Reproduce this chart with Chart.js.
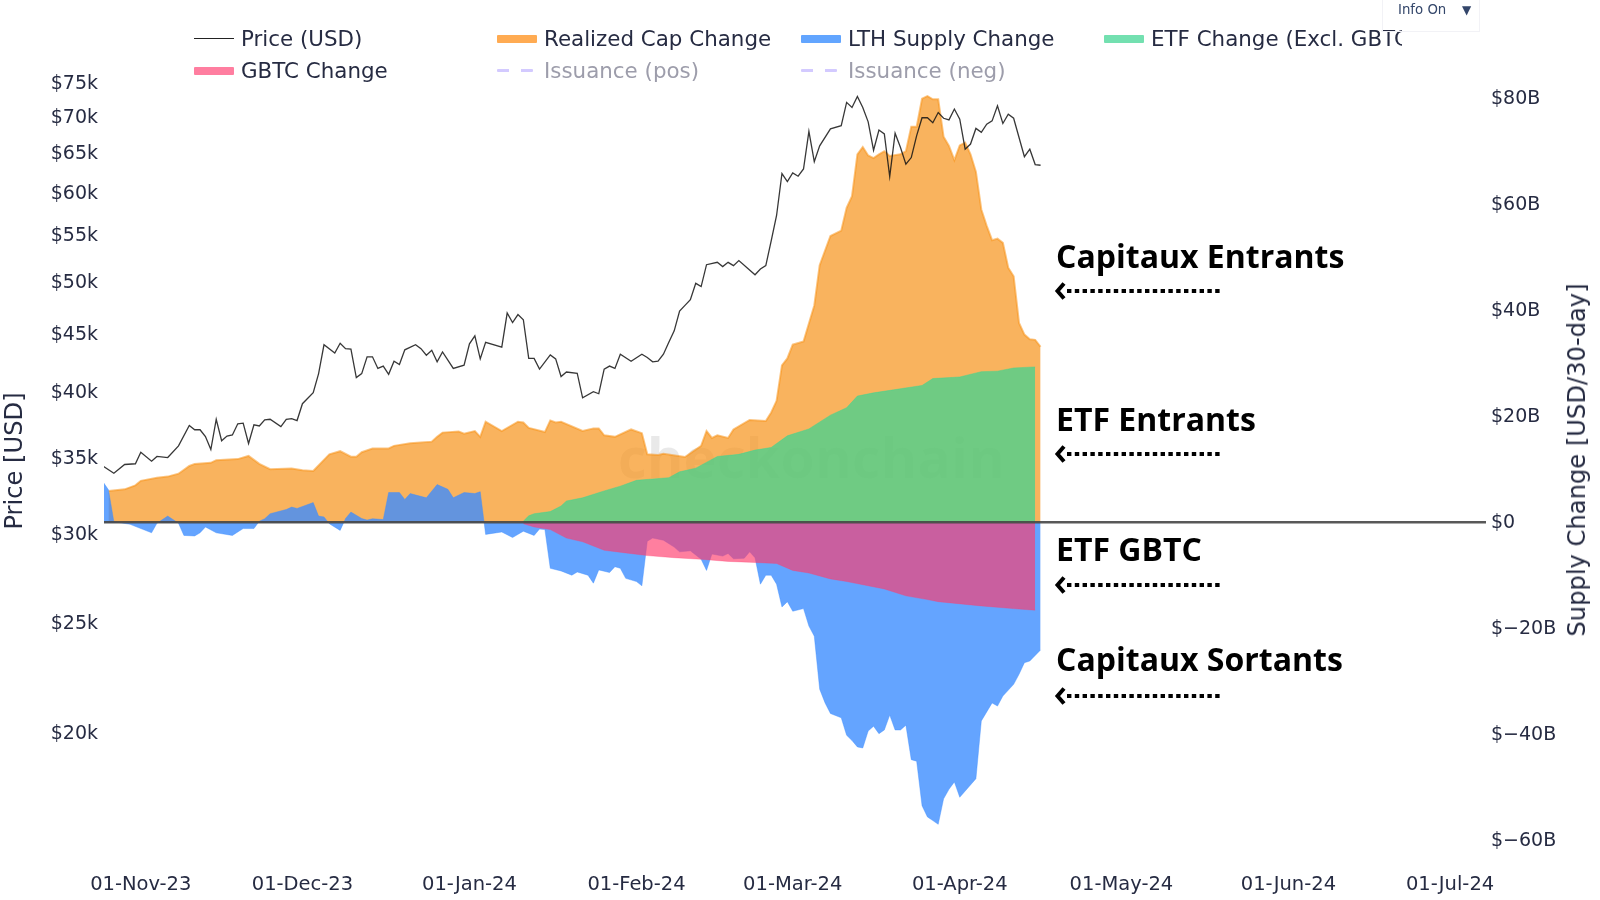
<!DOCTYPE html>
<html>
<head>
<meta charset="utf-8">
<title>Supply Change</title>
<script src="https://cdn.jsdelivr.net/npm/chart.js@4/dist/chart.umd.min.js"></script>
<style>
    html, body { margin: 0; padding: 0; background: #fff; }
    #page { position: relative; width: 1600px; height: 900px; overflow: hidden; font-family: "DejaVu Sans", sans-serif; color: #262b42; }
    #page > * { position: absolute; }
    canvas { left: 0; top: 1px; }
    #watermark { left: 618px; top: 418px; font: bold 56px "Open Sans", sans-serif; color: rgba(0,0,0,0.085); white-space: nowrap; }
    #legend { left: 0; top: 0; width: 1402px; height: 90px; overflow: hidden; }
    .item { position: absolute; height: 30px; line-height: 30px; font-size: 21.4px; white-space: nowrap; }
    .item i { position: absolute; left: 0; top: 11px; width: 40px; height: 8px; border-radius: 1px; }
    .item span { position: absolute; left: 47px; }
    .item.off { color: #9d9dab; }
    .item.off i { background: linear-gradient(90deg, #d3caff 0 12px, transparent 12px 24px, #d3caff 24px 36px) !important; height: 3px; top: 13px; width: 36px; }
    .item.line i { height: 0; top: 14px; border-top: 1.3px solid #222; border-radius: 0; background: none !important; }
    #info { left: 1382px; top: -1px; width: 96px; height: 31px; border: 1px solid #f2f2f6; font-size: 13.3px; line-height: 20px; color: #33466a; }
    #info span { position: absolute; left: 15px; }
    #info b { position: absolute; left: 79px; font-size: 12px; font-weight: normal; }
    .note { left: 1056px; font: bold 32px "Open Sans", sans-serif; color: #000; white-space: nowrap; line-height: 40px; }
    .arrow { left: 1054px; width: 170px; height: 22px; }
    #rightTitle { left: 1577px; top: 460px; font-size: 24.2px; white-space: nowrap; transform: translate(-50%, -50%) rotate(-90deg); color: #262b42; }
</style>
</head>
<body>
<div id="page">
    <div id="watermark">checkonchain</div>
    <canvas id="flowChart" width="1600" height="900"></canvas>
    <div id="legend"></div>
    <div id="info"><span>Info On</span><b>▼</b></div>
    <div class="note" style="top:236px">Capitaux Entrants</div>
    <div class="note" style="top:399px">ETF Entrants</div>
    <div class="note" style="top:529px">ETF GBTC</div>
    <div class="note" style="top:639px">Capitaux Sortants</div>
    <svg class="arrow" style="top:280px"><use href="#dots"/></svg>
    <svg class="arrow" style="top:443px"><use href="#dots"/></svg>
    <svg class="arrow" style="top:574px"><use href="#dots"/></svg>
    <svg class="arrow" style="top:685px"><defs><g id="dots"><path d="M13 11H166" stroke="#000" stroke-width="4" stroke-dasharray="4.4 3.4" fill="none"/><path d="M10 3.5L3.5 11L10 18.5" stroke="#000" stroke-width="4" fill="none"/></g></defs><use href="#dots"/></svg>
    <div id="rightTitle">Supply Change [USD/30-day]</div>
</div>
<script>
// All series x values are days counted from 01-Nov-23
const tickDays = [0, 30, 61, 92, 121, 152, 182, 213, 243];
const tickLabels = ["01-Nov-23", "01-Dec-23", "01-Jan-24", "01-Feb-24", "01-Mar-24", "01-Apr-24", "01-May-24", "01-Jun-24", "01-Jul-24"];
const priceTicks = [20000, 25000, 30000, 35000, 40000, 45000, 50000, 55000, 60000, 65000, 70000, 75000];
const supplyTicks = [-60, -40, -20, 0, 20, 40, 60, 80];
const legendNames = ["Price (USD)", "Realized Cap Change", "LTH Supply Change", "ETF Change (Excl. GBTC)", "GBTC Change", "Issuance (pos)", "Issuance (neg)"];

const priceDays = [-7, -5, -3, -1, 0, 2, 3, 5, 7, 9, 10, 11, 12, 13, 14, 15, 16, 17, 18, 19, 20, 21, 22, 23, 24, 26, 27, 28, 29, 30, 32, 33, 34, 36, 37, 38, 39, 40, 41, 42, 43, 44, 45, 46, 47, 48, 49, 51, 52, 53, 54, 55, 56, 58, 60, 61, 62, 63, 64, 67, 68, 69, 70, 71, 72, 73, 74, 76, 77, 78, 79, 81, 82, 84, 85, 86, 87, 88, 89, 91, 93, 94, 95, 96, 97, 98, 99, 100, 101, 102, 103, 104, 105, 107, 108, 109, 110, 111, 114, 115, 116, 117, 118, 119, 120, 121, 122, 123, 124, 125, 126, 128, 130, 131, 132, 133, 134, 135, 136, 137, 138, 139, 140, 141, 142, 143, 144, 145, 146, 147, 148, 149, 150, 151, 152, 153, 154, 155, 156, 157, 158, 159, 160, 161, 162, 164, 165, 166, 167];
const priceValues = [34490, 33990, 34600, 34650, 35470, 34830, 35170, 35090, 35930, 37450, 37130, 37130, 36620, 35670, 37930, 36310, 36660, 36740, 37580, 37630, 36110, 37500, 37420, 37880, 37930, 37370, 37930, 37980, 37830, 39150, 40030, 41620, 44130, 43400, 44270, 43780, 43750, 41280, 41620, 43060, 43060, 42060, 42260, 41560, 42680, 42400, 43680, 44130, 43780, 43200, 43640, 42630, 43490, 42060, 42340, 44220, 44930, 42880, 44350, 43920, 47070, 46170, 46920, 46430, 42930, 42930, 42000, 43230, 42880, 41370, 41750, 41650, 39620, 40120, 39950, 42000, 42260, 42060, 43290, 42680, 43290, 43000, 42630, 42680, 43290, 44350, 45400, 47260, 47810, 48360, 50000, 49670, 51930, 52180, 51730, 52180, 51830, 52360, 50880, 51480, 51830, 54510, 57390, 62500, 61490, 62580, 62160, 63080, 68100, 64030, 66120, 68430, 68880, 72220, 71480, 73100, 71480, 69420, 65530, 68280, 67740, 62120, 67830, 65890, 63700, 64560, 67500, 70000, 70000, 69300, 70750, 69930, 69700, 71250, 69800, 65670, 66360, 68500, 67950, 69100, 69560, 71730, 69190, 70510, 69930, 64680, 65670, 63650, 63560];

const realizedDays = [-6, -3, -1, 0, 3, 5, 7, 9, 10, 13, 14, 18, 20, 22, 24, 28, 30, 32, 35, 37, 39, 40, 41, 43, 46, 47, 50, 54, 55, 56, 59, 60, 62, 63, 64, 67, 70, 71, 72, 75, 76, 77, 78, 82, 84, 85, 86, 88, 91, 93, 94, 96, 97, 101, 104, 105, 106, 107, 109, 110, 113, 116, 117, 118, 119, 120, 121, 123, 125, 126, 128, 130, 131, 132, 133, 134, 135, 136, 137, 138, 139, 141, 142, 143, 144, 145, 146, 147, 148, 149, 150, 151, 152, 153, 154, 155, 156, 157, 158, 159, 160, 161, 162, 163, 164, 165, 166, 167];
const realizedValues = [6.0, 6.3, 7.05, 7.9, 8.5, 8.7, 9.25, 10.7, 11.1, 11.3, 11.8, 12.0, 12.6, 11.1, 10.1, 10.25, 9.9, 9.75, 12.9, 13.5, 12.45, 12.45, 13.3, 14.0, 14.0, 14.5, 15.0, 15.3, 16.2, 17.0, 17.2, 16.8, 17.3, 16.2, 19.05, 17.3, 19.05, 18.9, 17.9, 17.1, 19.3, 18.9, 19.05, 17.3, 17.8, 17.8, 16.5, 16.2, 17.6, 16.9, 12.9, 12.8, 13.0, 12.4, 14.5, 17.3, 16.0, 16.5, 16.0, 17.6, 19.4, 19.2, 20.8, 23.0, 29.7, 31.0, 33.6, 34.2, 41.0, 48.6, 54.1, 55.1, 59.4, 61.6, 69.5, 70.9, 69.3, 68.8, 69.5, 70.1, 69.2, 69.5, 70.1, 74.7, 74.7, 80.0, 80.5, 79.9, 79.9, 72.8, 71.1, 68.4, 71.2, 71.7, 69.5, 66.2, 59.1, 56.0, 53.3, 53.6, 52.8, 48.1, 46.5, 37.7, 35.5, 34.6, 34.5, 33.2];

const lthDays = [-7, -6, -5, -2, 2, 3, 5, 7, 8, 10, 11, 12, 14, 17, 19, 21, 22, 23, 24, 27, 28, 29, 32, 33, 34, 35, 37, 38, 39, 41, 42, 43, 45, 46, 48, 49, 50, 53, 55, 57, 58, 60, 62, 63, 64, 67, 69, 71, 73, 74, 75, 76, 78, 80, 81, 83, 84, 85, 87, 88, 89, 90, 92, 93, 94, 95, 97, 99, 100, 102, 104, 105, 106, 108, 109, 110, 112, 113, 114, 115, 116, 117, 118, 119, 120, 121, 123, 124, 125, 126, 127, 128, 130, 131, 132, 133, 134, 135, 136, 137, 138, 139, 140, 141, 142, 143, 144, 145, 146, 147, 148, 149, 150, 151, 152, 155, 156, 158, 159, 160, 162, 163, 164, 165, 167];
const lthValues = [7.7, 6.2, 0.2, -0.3, -1.9, -0.1, 1.26, -0.1, -2.4, -2.5, -1.9, -0.8, -1.9, -2.4, -1.1, -1.1, 0.3, 0.75, 1.7, 2.5, 2.95, 2.7, 3.8, 1.25, 1.1, -0.2, -1.45, 0.8, 2.0, 0.8, 0.5, 0.75, 0.6, 5.7, 5.7, 4.4, 5.5, 4.7, 7.2, 6.3, 4.7, 5.7, 5.5, 5.85, -2.2, -1.75, -2.8, -1.6, -2.4, -1.2, -1.3, -8.6, -9.1, -9.9, -9.3, -9.9, -11.4, -8.9, -9.4, -8.3, -8.6, -10.5, -11.1, -11.9, -3.5, -2.9, -3.3, -4.6, -5.5, -5.3, -6.9, -9.0, -5.9, -6.3, -5.8, -6.8, -6.7, -5.5, -6.6, -11.6, -9.9, -9.9, -11.6, -15.9, -14.9, -16.7, -16.2, -19.5, -21.4, -31.4, -34.0, -36.0, -36.8, -40.1, -41.1, -42.3, -42.5, -39.3, -38.4, -39.8, -39.1, -36.3, -39.1, -39.1, -38.2, -44.7, -45.0, -53.4, -55.5, -56.2, -56.9, -52.1, -50.3, -48.9, -51.8, -48.3, -37.4, -34.0, -34.6, -32.7, -30.5, -28.6, -26.4, -26.1, -24.0];

const etfDays = [71, 72, 73, 76, 78, 79, 82, 86, 89, 92, 98, 100, 103, 107, 111, 114, 117, 120, 124, 128, 131, 133, 136, 145, 147, 152, 156, 159, 162, 166];
const etfValues = [0.3, 1.3, 1.7, 2.1, 3.15, 4.1, 4.7, 6.0, 6.9, 8.0, 8.5, 9.6, 10.3, 12.5, 12.9, 13.7, 14.2, 16.4, 17.7, 20.3, 21.7, 23.9, 24.5, 25.9, 27.2, 27.5, 28.5, 28.6, 29.2, 29.4];

const gbtcDays = [71, 73, 76, 79, 82, 86, 90, 94, 99, 104, 109, 114, 118, 121, 124, 128, 131, 138, 142, 146, 148, 156, 163, 166];
const gbtcValues = [-0.2, -0.8, -1.3, -2.9, -3.6, -5.2, -5.7, -6.2, -6.6, -6.9, -7.3, -7.5, -7.7, -9.0, -9.5, -10.6, -11.1, -12.5, -13.8, -14.5, -14.9, -15.7, -16.3, -16.5];

function toPoints(days, values) {
    return days.map((d, i) => ({ x: d, y: values[i] }));
}

function axisFont(size) {
    return { family: "'DejaVu Sans', sans-serif", size: size };
}

// Legend swatches use the same series colours as the chart
const legendColors = ["#222", "#ffab52", "#62a5ff", "#73e0b0", "#ff7ea0", "", ""];
const legendClasses = ["line", "", "", "", "", "off", "off"];
const legendCols = [194, 497, 801, 1104, 194, 497, 801];
const legendRows = [24, 24, 24, 24, 56, 56, 56];
const legendBox = document.getElementById("legend");
legendNames.forEach((name, i) => {
    const item = document.createElement("div");
    item.className = "item " + legendClasses[i];
    item.style.left = legendCols[i] + "px";
    item.style.top = legendRows[i] + "px";
    item.innerHTML = '<i style="background:' + legendColors[i] + '"></i><span>' + name + "</span>";
    legendBox.appendChild(item);
});

const ctx = document.getElementById("flowChart").getContext("2d");
new Chart(ctx, {
    type: "line",
    data: {
        datasets: [
            {
                label: "Price (USD)",
                data: toPoints(priceDays, priceValues),
                yAxisID: "yPrice",
                borderColor: "rgba(20,20,20,0.85)",
                borderWidth: 1.3,
                pointRadius: 0,
                fill: false,
                order: 0
            },
            {
                label: "Realized Cap Change",
                data: toPoints(realizedDays, realizedValues),
                yAxisID: "ySupply",
                borderColor: "rgba(247,147,26,0.55)",
                backgroundColor: "rgba(247,147,26,0.7)",
                borderWidth: 2,
                pointRadius: 0,
                fill: "origin",
                order: 4
            },
            {
                label: "LTH Supply Change",
                data: toPoints(lthDays, lthValues),
                yAxisID: "ySupply",
                borderColor: "rgba(61,141,255,0.4)",
                backgroundColor: "rgba(61,141,255,0.8)",
                borderWidth: 1,
                pointRadius: 0,
                fill: "origin",
                order: 3
            },
            {
                label: "ETF Change (Excl. GBTC)",
                data: toPoints(etfDays, etfValues),
                yAxisID: "ySupply",
                borderColor: "rgba(51,214,147,0.4)",
                backgroundColor: "rgba(51,214,147,0.7)",
                borderWidth: 1,
                pointRadius: 0,
                fill: "origin",
                order: 2
            },
            {
                label: "GBTC Change",
                data: toPoints(gbtcDays, gbtcValues),
                yAxisID: "ySupply",
                borderColor: "rgba(255,58,108,0.3)",
                backgroundColor: "rgba(255,58,108,0.65)",
                borderWidth: 1,
                pointRadius: 0,
                fill: "origin",
                order: 1
            }
        ]
    },
    options: {
        responsive: false,
        animation: false,
        layout: { padding: { top: 56 } },
        plugins: {
            legend: { display: false },
            tooltip: { enabled: false }
        },
        elements: { line: { tension: 0 } },
        scales: {
            x: {
                type: "linear",
                min: -6.83,
                max: 249.67,
                grid: { display: false, drawTicks: false },
                border: { display: false },
                afterBuildTicks: (scale) => { scale.ticks = tickDays.map((v) => ({ value: v })); },
                afterFit: (scale) => { scale.height = 36; },
                ticks: {
                    autoSkip: false,
                    maxRotation: 0,
                    padding: 8,
                    color: "#262b42",
                    font: axisFont(19.5),
                    callback: (v) => tickLabels[tickDays.indexOf(v)]
                }
            },
            yPrice: {
                type: "logarithmic",
                position: "left",
                min: 15331,
                max: 79200,
                grid: { display: false, drawTicks: false },
                border: { display: false },
                title: {
                    display: true,
                    text: "Price [USD]",
                    color: "#262b42",
                    font: axisFont(24.2),
                    padding: { top: 1, bottom: 0 }
                },
                afterBuildTicks: (scale) => { scale.ticks = priceTicks.map((v) => ({ value: v })); },
                afterFit: (scale) => { scale.width = 104; },
                ticks: {
                    autoSkip: false,
                    padding: 6,
                    color: "#262b42",
                    font: axisFont(19),
                    callback: (v) => "$" + v / 1000 + "k"
                }
            },
            ySupply: {
                type: "linear",
                position: "right",
                min: -64.58,
                max: 87.87,
                border: { display: false },
                grid: {
                    z: 1,
                    lineWidth: 2.5,
                    drawTicks: false,
                    color: (c) => (c.tick && c.tick.value === 0 ? "rgba(70,70,70,0.9)" : "transparent")
                },
                afterBuildTicks: (scale) => { scale.ticks = supplyTicks.map((v) => ({ value: v })); },
                afterFit: (scale) => { scale.width = 114; },
                ticks: {
                    autoSkip: false,
                    padding: 5,
                    color: "#262b42",
                    font: axisFont(19),
                    callback: (v) => (v < 0 ? "$\u2212" + -v : "$" + v) + (v === 0 ? "" : "B")
                }
            }
        }
    }
});
</script>
</body>
</html>
